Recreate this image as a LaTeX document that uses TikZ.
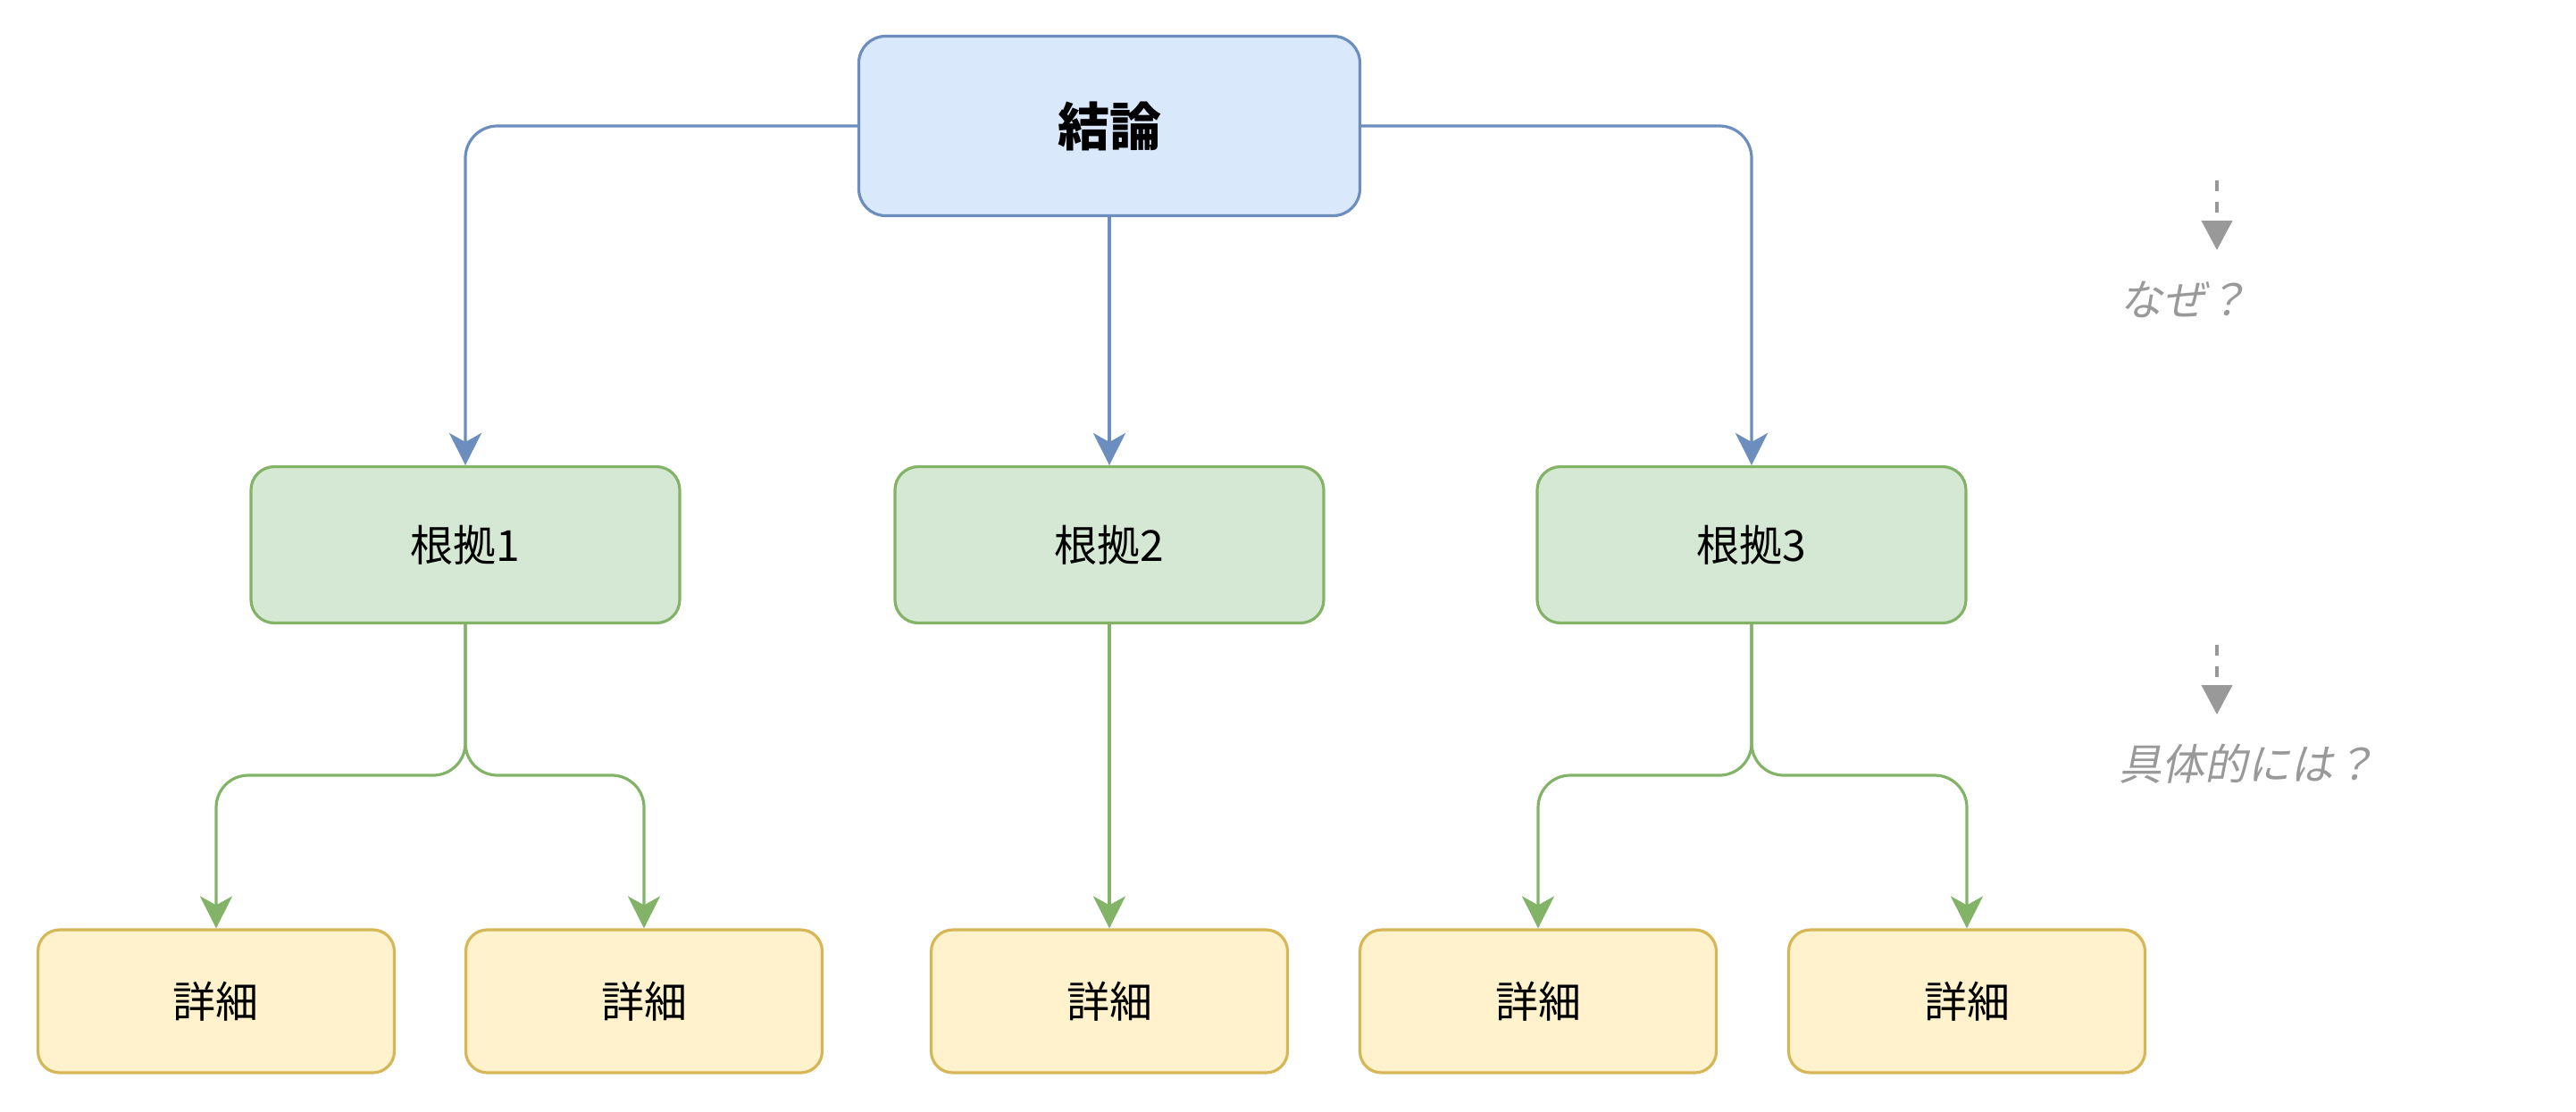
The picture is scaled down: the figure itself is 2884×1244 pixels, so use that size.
\documentclass[tikz,border=0pt]{standalone}
\usepackage{fontspec}
\setmainfont{Noto Sans CJK JP}
\newfontfamily\cjkit[FakeSlant=0.2]{Noto Sans CJK JP}
\usetikzlibrary{arrows.meta}
\definecolor{bluefill}{HTML}{DAE8FC}
\definecolor{bluedraw}{HTML}{6C8EBF}
\definecolor{greenfill}{HTML}{D5E8D4}
\definecolor{greendraw}{HTML}{82B366}
\definecolor{yellowfill}{HTML}{FFF2CC}
\definecolor{yellowdraw}{HTML}{D6B656}
\definecolor{hintgray}{HTML}{999999}
\tikzset{
  boxbase/.style={rectangle, line width=0.8pt, inner sep=0pt, align=center,
    font=\fontsize{12pt}{14pt}\selectfont},
  topbox/.style={boxbase, fill=bluefill, draw=bluedraw, rounded corners=7.5pt,
    minimum width=140.25pt, minimum height=50.25pt,
    font=\fontsize{14.5pt}{17pt}\selectfont\bfseries},
  reasonbox/.style={boxbase, fill=greenfill, draw=greendraw, rounded corners=6.5pt,
    minimum width=120pt, minimum height=43.75pt},
  detailbox/.style={boxbase, fill=yellowfill, draw=yellowdraw, rounded corners=6pt,
    minimum width=99.75pt, minimum height=40pt},
  blueline/.style={draw=bluedraw, line width=0.8pt, rounded corners=9pt,
    -{Stealth[length=9pt, width=9pt, inset=2.5pt]}},
  greenline/.style={draw=greendraw, line width=0.8pt, rounded corners=9pt,
    -{Stealth[length=9pt, width=9pt, inset=2.5pt]}},
  hintarrow/.style={draw=hintgray, line width=1pt, dash pattern=on 3pt off 3pt,
    -{Triangle[length=8.25pt, width=8.5pt]}},
  hinttext/.style={anchor=west, inner sep=0pt, text=hintgray,
    font=\fontsize{12pt}{14pt}\selectfont\cjkit}
}
\begin{document}
\begin{tikzpicture}[x=0.25pt,y=-0.25pt]
\useasboundingbox (0,0) rectangle (2884,1244);

\node[topbox] (c) at (1242,141) {結論};

\node[reasonbox] (g1) at (521,610) {根拠1};
\node[reasonbox] (g2) at (1242,610) {根拠2};
\node[reasonbox] (g3) at (1961,610) {根拠3};

\node[detailbox] (d1) at (242,1121) {詳細};
\node[detailbox] (d2) at (721,1121) {詳細};
\node[detailbox] (d3) at (1242,1121) {詳細};
\node[detailbox] (d4) at (1722,1121) {詳細};
\node[detailbox] (d5) at (2202,1121) {詳細};

\draw[blueline] (c.west) -| (g1.north);
\draw[blueline] (c.south) -- (g2.north);
\draw[blueline] (c.east) -| (g3.north);

\coordinate (j1) at (521,868);
\coordinate (j3) at (1961,868);
\draw[greenline] (g1.south) -- (j1) -- (d1.north |- j1) -- (d1.north);
\draw[greenline] (g1.south) -- (j1) -- (d2.north |- j1) -- (d2.north);
\draw[greenline] (g2.south) -- (d3.north);
\draw[greenline] (g3.south) -- (j3) -- (d4.north |- j3) -- (d4.north);
\draw[greenline] (g3.south) -- (j3) -- (d5.north |- j3) -- (d5.north);

\coordinate (h1s) at (2482,202);
\coordinate (h1e) at (2482,280);
\coordinate (h2s) at (2482,722);
\coordinate (h2e) at (2482,800);
\draw[hintarrow] (h1s) -- (h1e);
\draw[hintarrow] (h2s) -- (h2e);

\node[hinttext] (t1) at (2373,335) {なぜ？};
\node[hinttext] (t2) at (2372,855) {具体的には？};
\end{tikzpicture}
\end{document}
